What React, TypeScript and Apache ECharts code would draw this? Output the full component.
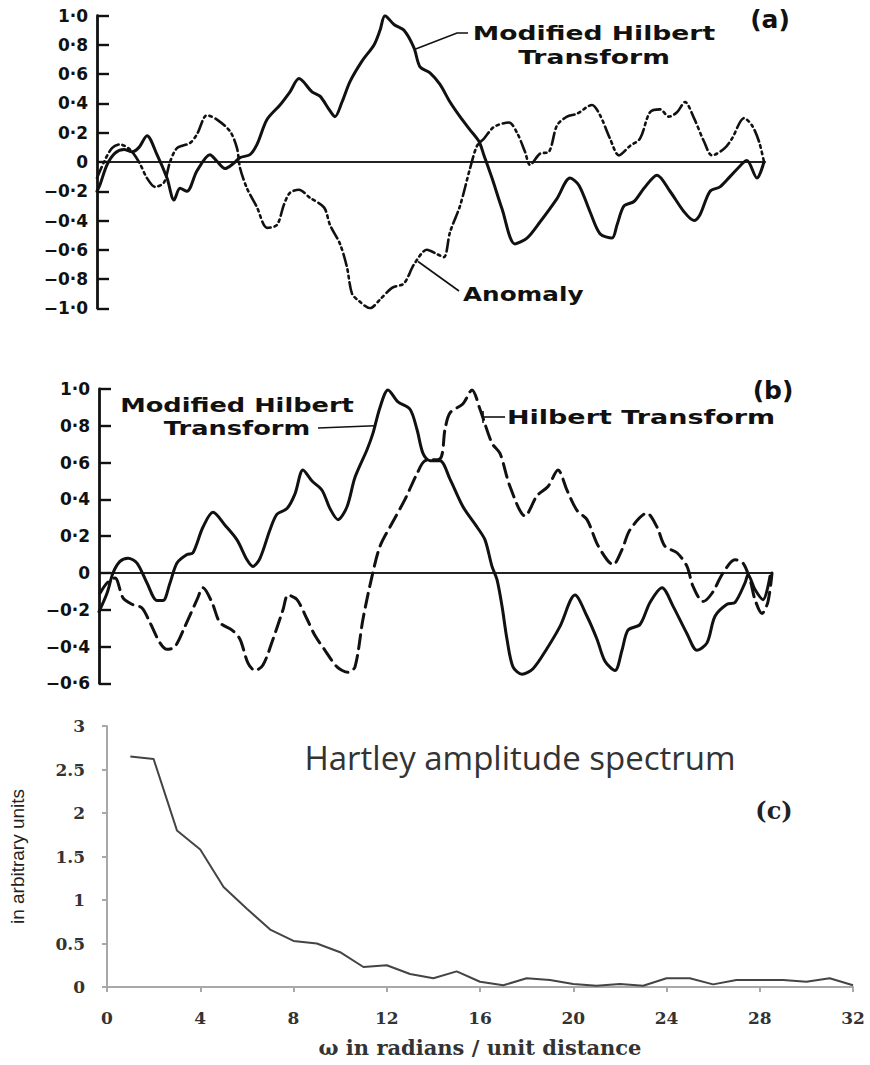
import React, { useEffect, useRef } from "react";
import * as echarts from "echarts";

// Panel (a): modified Hilbert transform and the anomaly, [station, normalised amplitude]
const modHilbertA: [number, number][] = [
  [0, -0.2], [3, -0.155], [10, -0.02], [18, 0.06], [27, 0.085], [35, 0.07], [42, 0.1], [50, 0.18],
  [60, 0.05], [70, -0.11], [77, -0.26], [83, -0.18], [90, -0.2], [100, -0.06], [113, 0.05], [120, 0.005],
  [128, -0.045], [137, -0.007], [143, 0.03], [153, 0.05], [160, 0.12], [170, 0.29], [183, 0.39], [193, 0.48],
  [202, 0.57], [215, 0.48], [223, 0.45], [232, 0.36], [238, 0.31], [245, 0.41], [253, 0.55], [265, 0.69],
  [277, 0.8], [283, 0.9], [288, 1.0], [297, 0.94], [307, 0.9], [317, 0.78], [323, 0.65], [333, 0.61],
  [343, 0.53], [353, 0.41], [363, 0.31], [373, 0.22], [382, 0.14], [387, 0.045], [395, -0.11], [405, -0.32],
  [418, -0.56], [430, -0.52], [443, -0.41], [460, -0.25], [473, -0.11], [482, -0.16], [493, -0.34], [503, -0.49],
  [515, -0.52], [520, -0.43], [527, -0.3], [537, -0.27], [547, -0.18], [560, -0.09], [573, -0.2], [587, -0.34],
  [597, -0.4], [603, -0.36], [613, -0.2], [623, -0.17], [633, -0.1], [647, 0.0], [650, 0.01], [660, -0.11], [667, 0.0],
];

const anomalyA: [number, number][] = [
  [0, -0.11], [7, 0.0], [15, 0.095], [23, 0.12], [33, 0.085], [42, 0.0], [50, -0.11], [58, -0.17],
  [67, -0.14], [73, 0.0], [80, 0.095], [93, 0.13], [100, 0.19], [110, 0.32], [120, 0.29], [133, 0.21],
  [140, 0.095], [143, -0.04], [150, -0.18], [160, -0.31], [170, -0.45], [180, -0.43], [187, -0.29], [193, -0.21],
  [202, -0.19], [213, -0.245], [227, -0.31], [233, -0.43], [243, -0.56], [250, -0.72], [255, -0.9], [262, -0.95],
  [273, -1.0], [283, -0.94], [295, -0.86], [307, -0.83], [317, -0.7], [330, -0.6], [340, -0.63], [347, -0.65],
  [353, -0.48], [363, -0.3], [373, -0.045], [380, 0.11], [387, 0.16], [397, 0.24], [412, 0.27], [420, 0.2],
  [428, 0.07], [433, -0.02], [443, 0.057], [452, 0.07], [460, 0.25], [470, 0.31], [480, 0.33], [495, 0.39],
  [503, 0.32], [513, 0.16], [522, 0.045], [533, 0.11], [543, 0.16], [553, 0.34], [563, 0.36], [572, 0.31],
  [580, 0.34], [588, 0.41], [597, 0.3], [607, 0.14], [615, 0.045], [627, 0.09], [635, 0.16], [647, 0.3],
  [655, 0.25], [662, 0.14], [667, 0.0],
];

// Panel (b): modified Hilbert transform against the ordinary Hilbert transform
const modHilbertB: [number, number][] = [
  [0, -0.21], [8, -0.11], [14, 0], [21, 0.063], [29, 0.08], [38, 0.054], [48, -0.054], [58, -0.15],
  [64, -0.15], [71, -0.054], [78, 0.054], [88, 0.1], [94, 0.11], [104, 0.25], [114, 0.33], [126, 0.26],
  [138, 0.18], [148, 0.072], [154, 0.036], [161, 0.08], [171, 0.235], [178, 0.32], [188, 0.35], [196, 0.43],
  [204, 0.56], [213, 0.5], [223, 0.45], [231, 0.35], [239, 0.29], [248, 0.36], [256, 0.52], [268, 0.67],
  [274, 0.76], [281, 0.9], [289, 0.995], [299, 0.93], [311, 0.89], [318, 0.78], [324, 0.65], [331, 0.61],
  [341, 0.61], [351, 0.51], [364, 0.36], [378, 0.25], [386, 0.18], [393, 0.036], [398, -0.036], [403, -0.18],
  [408, -0.36], [414, -0.51], [423, -0.55], [434, -0.52], [448, -0.41], [461, -0.29], [476, -0.12], [488, -0.235],
  [498, -0.36], [506, -0.48], [516, -0.53], [523, -0.42], [529, -0.31], [541, -0.28], [551, -0.16], [563, -0.08],
  [574, -0.18], [588, -0.33], [598, -0.42], [608, -0.38], [616, -0.235], [628, -0.17], [636, -0.16], [646, -0.054],
  [649, -0.01], [656, -0.09], [664, -0.145], [671, -0.018],
];

const hilbertB: [number, number][] = [
  [1, -0.11], [8, -0.054], [16, -0.027], [24, -0.135], [33, -0.17], [43, -0.19], [51, -0.27], [61, -0.38],
  [68, -0.415], [76, -0.4], [86, -0.29], [98, -0.145], [104, -0.08], [113, -0.16], [121, -0.27], [133, -0.31],
  [141, -0.36], [149, -0.49], [156, -0.53], [164, -0.5], [174, -0.36], [184, -0.2], [189, -0.12], [198, -0.145],
  [208, -0.25], [216, -0.34], [226, -0.42], [238, -0.51], [249, -0.54], [256, -0.51], [264, -0.25], [273, -0.018],
  [281, 0.145], [293, 0.27], [306, 0.4], [318, 0.54], [326, 0.61], [341, 0.62], [346, 0.78], [351, 0.87],
  [364, 0.92], [373, 0.995], [381, 0.89], [393, 0.705], [401, 0.65], [411, 0.47], [426, 0.31], [438, 0.42],
  [449, 0.47], [459, 0.56], [468, 0.45], [478, 0.34], [488, 0.29], [498, 0.16], [508, 0.072], [514, 0.045],
  [523, 0.127], [531, 0.235], [548, 0.325], [558, 0.25], [566, 0.145], [578, 0.11], [588, 0.036], [594, -0.072],
  [604, -0.155], [613, -0.11], [624, 0.0], [636, 0.072], [644, 0.054], [651, -0.036], [656, -0.145], [663, -0.22],
  [669, -0.155], [673, 0],
];

// Panel (c): Hartley amplitude spectrum
const omega = [
  1, 2, 3, 4, 5, 6, 7, 8, 9, 10, 11, 12, 13, 14, 15, 16,
  17, 18, 19, 20, 21, 22, 23, 24, 25, 26, 27, 28, 29, 30, 31, 32,
];
const hartleyAmp = [
  2.65, 2.62, 1.8, 1.58, 1.15, 0.9, 0.66, 0.53, 0.5, 0.4, 0.23, 0.25, 0.15, 0.1, 0.18, 0.06,
  0.02, 0.1, 0.08, 0.035, 0.015, 0.035, 0.015, 0.1, 0.1, 0.03, 0.08, 0.08, 0.08, 0.06, 0.1, 0.02,
];

// Leader anchor points on the curves, in data coordinates
const anchorModA: [number, number] = [318, 0.77];
const anchorAnomalyA: [number, number] = [321, -0.68];
const anchorModB: [number, number] = [276, 0.8];

const dotFormatter = (v: number) => {
  if (Math.abs(v) < 1e-9) return "0";
  const s = Math.abs(v).toFixed(1).replace(".", "·");
  return v < 0 ? "−" + s : s;
};

const INK = "#111";
const LETTER = "DejaVu Sans";

function sketchAxes(gridIndex: number, min: number, max: number, xMax: number) {
  const x = {
    type: "value",
    gridIndex,
    min: 0,
    max: xMax,
    axisLine: { show: true, onZero: true, lineStyle: { color: "#222", width: 1.8 } },
    axisTick: { show: false },
    axisLabel: { show: false },
    splitLine: { show: false },
  };
  const y = {
    type: "value",
    gridIndex,
    min,
    max,
    interval: 0.2,
    axisLine: { show: true, lineStyle: { color: INK, width: 2.8 } },
    axisTick: { show: true, inside: true, length: 12, lineStyle: { color: INK, width: 2.4 } },
    axisLabel: {
      margin: 9,
      color: INK,
      fontFamily: LETTER,
      fontWeight: "bold",
      fontSize: 17,
      formatter: dotFormatter,
    },
    splitLine: { show: false },
  };
  return { x, y };
}

export default function App() {
  const ref = useRef<HTMLDivElement>(null);

  useEffect(() => {
    if (!ref.current) return;
    const chart = echarts.init(ref.current, null, { renderer: "svg" });
    const a = sketchAxes(0, -1, 1, 668);
    const b = sketchAxes(1, -0.6, 1, 673);
    const solid = { color: INK, width: 3, cap: "round", join: "round" };
    const serifLabel = { color: "#333", fontFamily: "DejaVu Serif", fontWeight: "bold", fontSize: 17 };

    chart.setOption({
      animation: false,
      backgroundColor: "#fff",
      grid: [
        { left: 97, top: 15.7, width: 668, height: 292.6, outerBoundsMode: "none", containLabel: false },
        { left: 99, top: 389, width: 673, height: 294.4, outerBoundsMode: "none", containLabel: false },
        { left: 107, top: 726, width: 746, height: 261, outerBoundsMode: "none", containLabel: false },
      ],
      xAxis: [
        a.x,
        b.x,
        {
          type: "value",
          gridIndex: 2,
          min: 0,
          max: 32,
          interval: 4,
          name: "ω in radians / unit distance",
          nameLocation: "middle",
          nameGap: 50,
          nameTextStyle: { color: "#333", fontFamily: "DejaVu Serif", fontWeight: "bold", fontSize: 21 },
          axisLine: { lineStyle: { color: "#a8a8a8", width: 2 } },
          axisTick: { show: true, length: 5, lineStyle: { color: "#a8a8a8", width: 2 } },
          axisLabel: { margin: 22, ...serifLabel },
          splitLine: { show: false },
        },
      ],
      yAxis: [
        a.y,
        b.y,
        {
          type: "value",
          gridIndex: 2,
          min: 0,
          max: 3,
          interval: 0.5,
          name: "in arbitrary units",
          nameLocation: "middle",
          nameGap: 80,
          nameRotate: 90,
          nameTextStyle: { color: "#222", fontFamily: "Liberation Sans Narrow, Liberation Sans", fontSize: 19 },
          axisLine: { show: true, lineStyle: { color: "#a8a8a8", width: 2 } },
          axisTick: { show: true, length: 5, lineStyle: { color: "#a8a8a8", width: 2 } },
          axisLabel: { margin: 22, ...serifLabel },
          splitLine: { show: false },
        },
      ],
      series: [
        {
          name: "Modified Hilbert Transform (a)",
          type: "line",
          xAxisIndex: 0,
          yAxisIndex: 0,
          data: modHilbertA,
          showSymbol: false,
          smooth: 0.3,
          lineStyle: solid,
        },
        {
          name: "Anomaly",
          type: "line",
          xAxisIndex: 0,
          yAxisIndex: 0,
          data: anomalyA,
          showSymbol: false,
          smooth: 0.3,
          lineStyle: { ...solid, width: 2.6, type: [12, 4, 2.5, 4, 2.5, 4] },
        },
        {
          name: "Modified Hilbert Transform (b)",
          type: "line",
          xAxisIndex: 1,
          yAxisIndex: 1,
          data: modHilbertB,
          showSymbol: false,
          smooth: 0.3,
          lineStyle: solid,
        },
        {
          name: "Hilbert Transform",
          type: "line",
          xAxisIndex: 1,
          yAxisIndex: 1,
          data: hilbertB,
          showSymbol: false,
          smooth: 0.3,
          lineStyle: { ...solid, type: [14, 7] },
        },
        {
          name: "Hartley amplitude spectrum",
          type: "line",
          xAxisIndex: 2,
          yAxisIndex: 2,
          data: omega.map((w, i) => [w, hartleyAmp[i]]),
          showSymbol: false,
          lineStyle: { color: "#444", width: 2 },
        },
      ],
    });

    const pA = chart.convertToPixel({ xAxisIndex: 0, yAxisIndex: 0 }, anchorModA) as number[];
    const pAn = chart.convertToPixel({ xAxisIndex: 0, yAxisIndex: 0 }, anchorAnomalyA) as number[];
    const pB = chart.convertToPixel({ xAxisIndex: 1, yAxisIndex: 1 }, anchorModB) as number[];

    const label = (text: string, x: number, y: number, align: string, scaleX: number, size = 19) => ({
      type: "text",
      x,
      y,
      scaleX,
      style: {
        text,
        fill: INK,
        font: `bold ${size}px "${LETTER}"`,
        textAlign: align,
        textVerticalAlign: "middle",
      },
    });
    const leader = (points: number[][]) => ({
      type: "polyline",
      shape: { points },
      style: { stroke: INK, lineWidth: 1.6, fill: null },
    });

    chart.setOption({
      graphic: [
        label("Modified Hilbert", 594, 33, "center", 1.4),
        label("Transform", 594, 57, "center", 1.4),
        leader([pA, [457, 33], [468, 33]]),
        label("Anomaly", 463, 295, "left", 1.3),
        leader([pAn, [459, 291]]),
        label("(a)", 770, 19, "center", 1, 25),

        label("Modified Hilbert", 237, 405, "center", 1.35),
        label("Transform", 237, 428, "center", 1.35),
        leader([[318, 428], pB]),
        label("Hilbert Transform", 507, 417, "left", 1.42),
        leader([[483, 417], [505, 417]]),
        leader([[483, 411], [483, 423]]),
        label("(b)", 773, 390, "center", 1, 25),

        {
          type: "text",
          x: 520,
          y: 757,
          style: {
            text: "Hartley amplitude spectrum",
            fill: "#333",
            font: '33px "Open Sans"',
            textAlign: "center",
            textVerticalAlign: "middle",
          },
        },
        {
          type: "text",
          x: 774,
          y: 810,
          style: {
            text: "(c)",
            fill: "#222",
            font: 'bold 24px "DejaVu Serif"',
            textAlign: "center",
            textVerticalAlign: "middle",
          },
        },
      ],
    });

    return () => chart.dispose();
  }, []);

  return (
    <div
      ref={ref}
      style={{ position: "absolute", left: 0, top: 0, width: 870, height: 1065, background: "#fff" }}
    />
  );
}
